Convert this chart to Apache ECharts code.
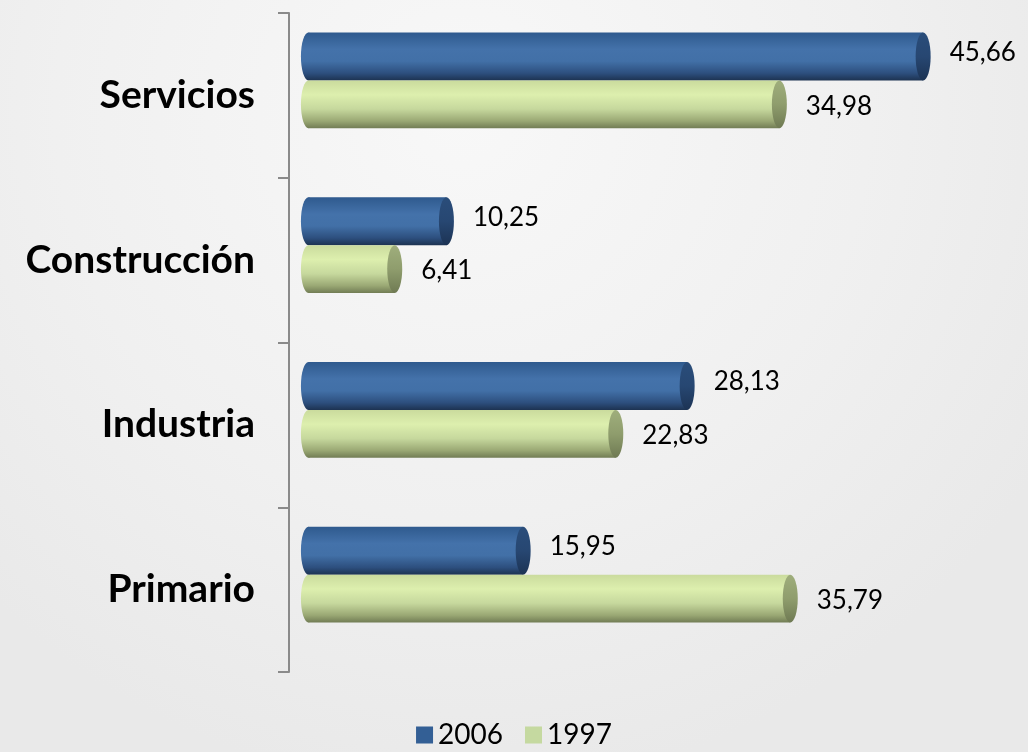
<!DOCTYPE html>
<html>
<head>
    <meta charset="utf-8">
    <title>Sectores</title>
    <script src="https://cdn.jsdelivr.net/npm/echarts@6/dist/echarts.min.js"></script>
    <style>
        html, body { margin: 0; padding: 0; }
    </style>
</head>
<body>
    <div id="main" style="width:1028px;height:752px;"></div>
    <script type="text/javascript">
        // datos
        var categories = ['Servicios', 'Construcción', 'Industria', 'Primario'];
        var values2006 = [45.66, 10.25, 28.13, 15.95];
        var values1997 = [34.98, 6.41, 22.83, 35.79];
        var seriesNames = ['2006', '1997'];

        var blueBody = new echarts.graphic.LinearGradient(0, 0, 0, 1, [
            { offset: 0, color: '#2f5a8e' },
            { offset: 0.35, color: '#4472aa' },
            { offset: 0.6, color: '#4270a7' },
            { offset: 0.85, color: '#2d4f7e' },
            { offset: 1, color: '#1d3352' }
        ]);
        var blueCap = new echarts.graphic.LinearGradient(0, 0, 0, 1, [
            { offset: 0, color: '#2a4d7a' },
            { offset: 0.5, color: '#274772' },
            { offset: 1, color: '#1c3354' }
        ]);
        var greenBody = new echarts.graphic.LinearGradient(0, 0, 0, 1, [
            { offset: 0, color: '#cadb9d' },
            { offset: 0.3, color: '#ddefae' },
            { offset: 0.6, color: '#c6d89d' },
            { offset: 0.85, color: '#9aa874' },
            { offset: 1, color: '#727d55' }
        ]);
        var greenCap = new echarts.graphic.LinearGradient(0, 0, 0, 1, [
            { offset: 0, color: '#9fae7c' },
            { offset: 0.5, color: '#8f9d6d' },
            { offset: 1, color: '#6f7a53' }
        ]);

        function fmt(v) {
            return v.toFixed(2).replace('.', ',');
        }

        // cilindros horizontales
        function makeRender(idx) {
            return function (params, api) {
                var val = api.value(0);
                var cat = api.value(1);
                var end = api.coord([val, cat]);
                var zero = api.coord([0, cat]);
                var band = api.size([0, 1])[1];
                var h = band * 0.29;
                var center = end[1] - 15;
                var y0 = idx === 0 ? center - h : center;
                var rx = 7.5;
                var ry = h / 2;
                var x0 = zero[0] - 15;
                var x1 = end[0];
                var body = idx === 0 ? blueBody : greenBody;
                var cap = idx === 0 ? blueCap : greenCap;
                return {
                    type: 'group',
                    children: [
                        { type: 'ellipse', shape: { cx: x0 + rx, cy: y0 + ry, rx: rx, ry: ry }, style: { fill: body } },
                        { type: 'rect', shape: { x: x0 + rx, y: y0, width: Math.max(0, x1 - x0 - 2 * rx), height: h }, style: { fill: body } },
                        { type: 'ellipse', shape: { cx: x1 - rx, cy: y0 + ry, rx: rx, ry: ry }, style: { fill: cap } },
                        {
                            type: 'text',
                            style: {
                                x: x1 + 19,
                                y: y0 + ry + (idx === 0 ? -4 : 2),
                                text: fmt(val),
                                fill: '#000',
                                font: '26px Lato',
                                verticalAlign: 'middle',
                                align: 'left'
                            }
                        }
                    ]
                };
            };
        }

        function toData(arr) {
            var out = [];
            for (var i = 0; i < arr.length; i++) {
                out.push([arr[i], i]);
            }
            return out;
        }

        var myChart = echarts.init(document.getElementById('main'));
        myChart.setOption({
            animation: false,
            backgroundColor: new echarts.graphic.RadialGradient(0.45, 0.15, 0.9, [
                { offset: 0, color: '#f8f8f8' },
                { offset: 0.6, color: '#f0f0f0' },
                { offset: 1, color: '#e9e9e9' }
            ]),
            legend: {
                data: seriesNames,
                top: 716,
                left: 'center',
                icon: 'rect',
                itemWidth: 17,
                itemHeight: 17,
                itemGap: 22,
                textStyle: { fontFamily: 'Lato', fontSize: 28, color: '#000' }
            },
            grid: { left: 289, right: 12, top: 13, bottom: 80 },
            xAxis: {
                type: 'value',
                min: -2,
                max: 52,
                show: false
            },
            yAxis: {
                type: 'category',
                data: categories,
                inverse: true,
                axisLine: { onZero: false, lineStyle: { color: '#8a8a8a', width: 2 } },
                axisTick: { show: true, length: 11, lineStyle: { color: '#8a8a8a', width: 2 } },
                axisLabel: {
                    margin: 34,
                    color: '#000',
                    fontFamily: 'Lato',
                    fontWeight: 'bold',
                    fontSize: 39,
                    padding: [8, 0, 0, 0]
                },
                splitLine: { show: false }
            },
            series: [
                {
                    name: seriesNames[0],
                    type: 'custom',
                    renderItem: makeRender(0),
                    itemStyle: { color: '#335f95' },
                    encode: { x: 0, y: 1 },
                    data: toData(values2006)
                },
                {
                    name: seriesNames[1],
                    type: 'custom',
                    renderItem: makeRender(1),
                    itemStyle: { color: '#c5d9a0' },
                    encode: { x: 0, y: 1 },
                    data: toData(values1997)
                }
            ]
        });
    </script>
</body>
</html>
